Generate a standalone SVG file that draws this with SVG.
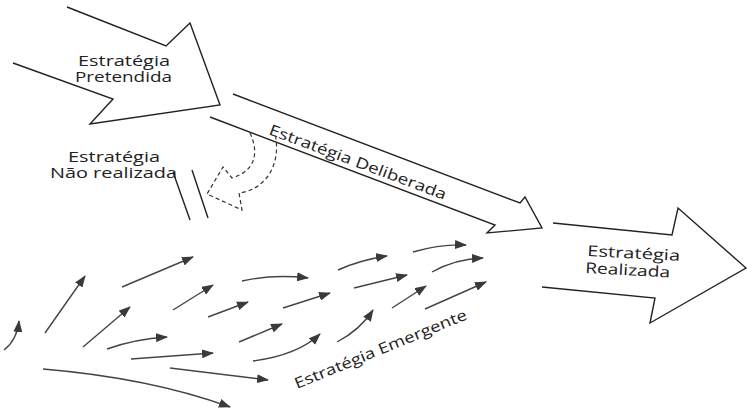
<svg xmlns="http://www.w3.org/2000/svg" width="747" height="409" viewBox="0 0 747 409">
<defs>
<style>
.big{fill:none;stroke:#222;stroke-width:1.4;stroke-linejoin:miter}
.dash{fill:none;stroke:#333;stroke-width:1.2;stroke-dasharray:4 3}
.em{fill:none;stroke:#444;stroke-width:1.4;marker-end:url(#ah)}
.t{font-family:"Open Sans","DejaVu Sans",sans-serif;font-size:15px;fill:#222}
</style>
<marker id="ah" markerUnits="userSpaceOnUse" markerWidth="12" markerHeight="9" refX="11" refY="4.5" orient="auto">
<path d="M0,0 L12,4.5 L0,9 z" fill="#3a3a3a"/>
</marker>
</defs>
<rect width="747" height="409" fill="#fff"/>

<g id="pretendida">
<polyline class="big" points="67,7 166,46 190,23 220,105 90,124 113,99 13,63"/>
<text class="t" x="78" y="66" textLength="92" lengthAdjust="spacingAndGlyphs">Estratégia</text>
<text class="t" x="75" y="82" textLength="97" lengthAdjust="spacingAndGlyphs">Pretendida</text>
</g>

<g id="deliberada">
<polyline class="big" points="233,94 520,203 525,197 542,228 487,233 495,225 210,117"/>
<text class="t" x="268" y="134" textLength="188" lengthAdjust="spacingAndGlyphs" transform="rotate(20.5 268 134)">Estratégia Deliberada</text>
</g>

<g id="realizada">
<polyline class="big" points="553,223 672,235 678,208 746,268 650,323 655,298 542,287"/>
<text class="t" x="587" y="256" textLength="93" lengthAdjust="spacingAndGlyphs" transform="rotate(3 587 256)">Estratégia</text>
<text class="t" x="585" y="273" textLength="85" lengthAdjust="spacingAndGlyphs" transform="rotate(3 585 273)">Realizada</text>
</g>

<g id="nao-realizada">
<path class="dash" d="M250,133 C258,150 258,170 232,178 L223,167 L207,194 L242,210 L239,193 C265,190 282,165 275,133"/>
<line x1="173" y1="172" x2="190" y2="220" stroke="#222" stroke-width="1.4"/>
<line x1="192" y1="170" x2="208" y2="218" stroke="#222" stroke-width="1.4"/>
<text class="t" x="68" y="162" textLength="92" lengthAdjust="spacingAndGlyphs">Estratégia</text>
<text class="t" x="50" y="178" textLength="127" lengthAdjust="spacingAndGlyphs">Não realizada</text>
</g>

<g id="emergente">
<text class="t" x="297" y="389" textLength="185" lengthAdjust="spacingAndGlyphs" transform="rotate(-22.3 297 389)">Estratégia Emergente</text>
</g>

<g id="connectors">
<path class="em" d="M4,350 Q17,340 19,321"/>
<path class="em" d="M45,333 L85,276"/>
<path class="em" d="M122,287 L193,257"/>
<path class="em" d="M83,347 L130,307"/>
<path class="em" d="M173,310 L213,285"/>
<path class="em" d="M107,349 Q135,339 167,337"/>
<path class="em" d="M131,359 L213,353"/>
<path class="em" d="M208,317 L248,302"/>
<path class="em" d="M242,281 Q272,274 308,278"/>
<path class="em" d="M239,342 L282,324"/>
<path class="em" d="M283,308 L330,293"/>
<path class="em" d="M253,361 Q298,355 320,334"/>
<path class="em" d="M170,368 L268,380"/>
<path class="em" d="M43,369 Q150,378 230,407"/>
<path class="em" d="M338,270 Q360,260 387,256"/>
<path class="em" d="M413,252 Q440,244 466,245"/>
<path class="em" d="M432,272 Q455,259 483,258"/>
<path class="em" d="M354,288 L407,275"/>
<path class="em" d="M392,308 L426,286"/>
<path class="em" d="M425,309 L486,282"/>
<path class="em" d="M337,342 Q360,330 373,310"/>
</g>
</svg>
